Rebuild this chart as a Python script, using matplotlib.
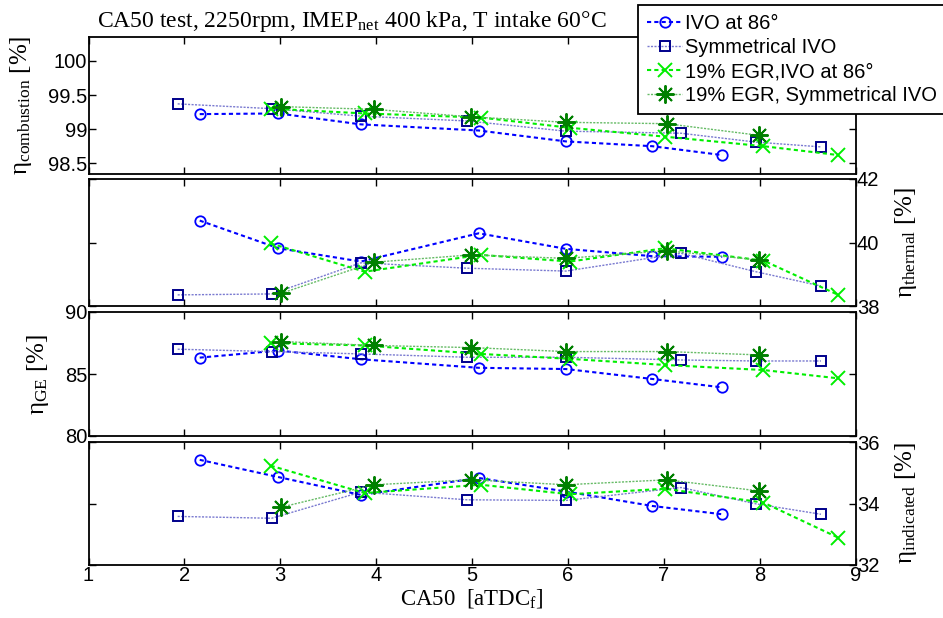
import matplotlib
matplotlib.use('Agg')
import matplotlib.pyplot as plt

plt.rcParams['font.family'] = 'Liberation Sans'
plt.rcParams['mathtext.fontset'] = 'custom'
plt.rcParams['mathtext.rm'] = 'Liberation Serif'
plt.rcParams['mathtext.it'] = 'Liberation Serif:italic'
SERIF = 'Liberation Serif'

# CA50 positions of each series [aTDC]
ivo86_x = [2.16, 2.98, 3.84, 5.07, 5.98, 6.88, 7.61]
sym_x = [1.93, 2.91, 3.84, 4.95, 5.98, 7.18, 7.96, 8.64]
egr86_x = [2.90, 3.88, 5.09, 6.02, 7.01, 8.04, 8.82]
egrsym_x = [3.01, 3.98, 4.99, 5.98, 7.03, 7.99]

# combustion efficiency [%]
comb_ivo86 = [99.22, 99.23, 99.07, 98.98, 98.82, 98.75, 98.62]
comb_sym = [99.37, 99.30, 99.19, 99.12, 98.97, 98.94, 98.81, 98.74]
comb_egr86 = [99.30, 99.23, 99.17, 99.02, 98.89, 98.75, 98.62]
comb_egrsym = [99.33, 99.29, 99.18, 99.10, 99.08, 98.91]

# thermal efficiency [%]
th_ivo86 = [40.69, 39.82, 39.40, 40.29, 39.80, 39.57, 39.55]
th_sym = [38.35, 38.38, 39.36, 39.19, 39.10, 39.66, 39.08, 38.63]
th_egr86 = [39.97, 39.08, 39.61, 39.40, 39.82, 39.43, 38.35]
th_egrsym = [38.40, 39.38, 39.61, 39.50, 39.74, 39.45]

# gas exchange efficiency [%]
ge_ivo86 = [86.32, 86.89, 86.19, 85.50, 85.40, 84.60, 83.92]
ge_sym = [87.00, 86.81, 86.62, 86.35, 86.35, 86.13, 86.05, 86.05]
ge_egr86 = [87.49, 87.30, 86.62, 86.22, 85.73, 85.32, 84.65]
ge_egrsym = [87.62, 87.30, 87.13, 86.81, 86.81, 86.54]

# indicated efficiency [%]
ind_ivo86 = [35.42, 34.86, 34.28, 34.83, 34.39, 33.92, 33.65]
ind_sym = [33.58, 33.52, 34.37, 34.12, 34.10, 34.52, 33.99, 33.65]
ind_egr86 = [35.23, 34.34, 34.61, 34.30, 34.48, 34.03, 32.89]
ind_egrsym = [33.88, 34.61, 34.77, 34.61, 34.77, 34.41]

legend_labels = ['IVO at 86°', 'Symmetrical IVO', '19% EGR,IVO at 86°',
                 '19% EGR, Symmetrical IVO']

W, H = 943, 618
fig = plt.figure(figsize=(W / 100, H / 100), dpi=100)

def rect(top, bottom, left=88.5, right=855.5):
    return [left / W, 1 - bottom / H, (right - left) / W, (bottom - top) / H]

panels = [
    dict(r=rect(37, 173.5), ys=(comb_ivo86, comb_sym, comb_egr86, comb_egrsym),
         ylim=(98.35, 100.35), ticks=[98.5, 99, 99.5, 100],
         tl=['98.5', '99', '99.5', '100'], side='left',
         label='η$_{\\mathrm{combustion}}$ [%]'),
    dict(r=rect(179, 306), ys=(th_ivo86, th_sym, th_egr86, th_egrsym),
         ylim=(38, 42), ticks=[38, 40, 42], tl=['38', '40', '42'], side='right',
         label='η$_{\\mathrm{thermal}}$ [%]'),
    dict(r=rect(312, 436), ys=(ge_ivo86, ge_sym, ge_egr86, ge_egrsym),
         ylim=(80, 90), ticks=[80, 85, 90], tl=['80', '85', '90'], side='left',
         label='η$_{\\mathrm{GE}}$ [%]'),
    dict(r=rect(442, 565), ys=(ind_ivo86, ind_sym, ind_egr86, ind_egrsym),
         ylim=(32, 36), ticks=[32, 34, 36], tl=['32', '34', '36'], side='right',
         label='η$_{\\mathrm{indicated}}$ [%]'),
]

xs = (ivo86_x, sym_x, egr86_x, egrsym_x)
styles = [
    dict(color='#0000ff', ls=(0, (2, 1.5)), lw=1.5, marker='o', ms=7.5,
         mec='#0000ff', mfc='none', mew=1.3),
    dict(color='#7a7ad0', ls=(0, (1.5, 1)), lw=1.0, marker='s', ms=6.5,
         mec='#00008b', mfc='none', mew=1.4),
    dict(color='#00ee00', ls=(0, (2, 1.5)), lw=1.5, marker='x', ms=10,
         mec='#00ee00', mfc='none', mew=1.4),
    dict(color='#66bb66', ls=(0, (1.5, 1)), lw=1.0, marker=(8, 2, 0), ms=13,
         mec='#008000', mfc='none', mew=1.4),
]

axes = []
for i, p in enumerate(panels):
    ax = fig.add_axes(p['r'])
    handles = []
    for x, y, st in zip(xs, p['ys'], styles):
        h, = ax.plot(x, y, color=st['color'], linestyle=st['ls'], linewidth=st['lw'],
                     marker=st['marker'], markersize=st['ms'],
                     markeredgecolor=st['mec'], markerfacecolor=st['mfc'],
                     markeredgewidth=st['mew'])
        handles.append(h)
    if i == 0:
        leg_handles = handles
    ax.set_xlim(1, 9)
    ax.set_xticks(range(1, 10))
    ax.set_ylim(*p['ylim'])
    ax.set_yticks(p['ticks'])
    ax.set_yticklabels(p['tl'])
    right = p['side'] == 'right'
    ax.tick_params(direction='in', top=True, right=True, left=True, bottom=True,
                   length=5, width=1, labelsize=14.5, pad=1,
                   labelleft=not right, labelright=right,
                   labelbottom=(i == 3))
    for s in ax.spines.values():
        s.set_linewidth(1.3)
    if right:
        ax.yaxis.set_label_position('right')
    ax.set_ylabel(p['label'], fontsize=18, family=SERIF, labelpad=10)
    axes.append(ax)

axes[3].set_xlabel('CA50  [aTDC$_{\\mathrm{f}}$]', fontsize=16.5, family=SERIF, labelpad=1)

fig.text(97 / W, 1 - 27 / H,
         'CA50 test, 2250rpm, IMEP$_{\\mathrm{net}}$ 400 kPa, T intake 60°C',
         fontsize=17, family=SERIF, va='baseline', ha='left')

leg = fig.legend(leg_handles, legend_labels, loc='upper left',
                 bbox_to_anchor=(638 / W, 1 - 5 / H), fontsize=14.5,
                 handlelength=1.75, handletextpad=0.15, borderpad=0.45,
                 labelspacing=0.25, borderaxespad=0, fancybox=False,
                 framealpha=1, edgecolor='black')
leg.get_frame().set_linewidth(1.3)
leg.set_zorder(10)

fig.savefig('out.png', dpi=100)
